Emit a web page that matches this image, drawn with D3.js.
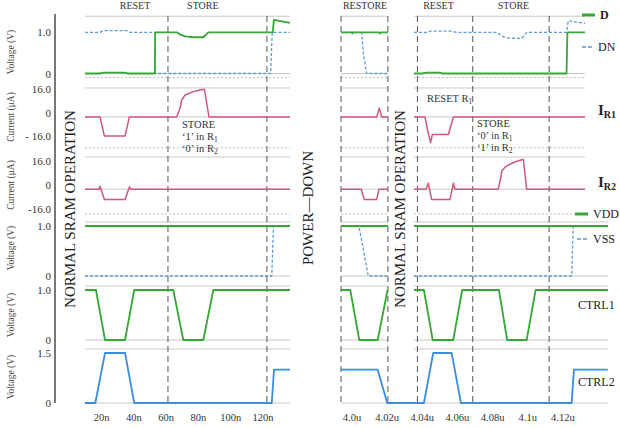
<!DOCTYPE html>
<html>
<head>
<meta charset="utf-8">
<script src="https://cdn.jsdelivr.net/npm/d3@7"></script>
<style>
  body { margin: 0; background: #fff; }
  svg { display: block; font-family: "Liberation Serif", "Times New Roman", serif; }
  svg text { font-family: "Liberation Serif", "Times New Roman", serif; }
</style>
</head>
<body>
<svg id="chart" width="620" height="428"></svg>
<script>
// ---- time axes ----
const leftTicks = [20, 40, 60, 80, 100, 120];
const leftTickLabels = ["20n", "40n", "60n", "80n", "100n", "120n"];
const rightTicks = [4.0, 4.02, 4.04, 4.06, 4.08, 4.1, 4.12];
const rightTickLabels = ["4.0u", "4.02u", "4.04u", "4.06u", "4.08u", "4.1u", "4.12u"];

// phase boundaries (dashed) and phase names
const leftBounds = [61.4, 122.7];
const rightBounds = [3.994, 4.0207, 4.0375, 4.069, 4.1125];
const leftPhases = [["RESET", 41], ["STORE", 83]];
const rightPhases = [["RESTORE", 4.0077], ["RESET", 4.0495], ["STORE", 4.0922]];

// ---- left: normal SRAM operation (ns) ----
const leftD = [[10,0],[19,0],[21.5,0.02],[34,0.02],[37,0],[53.3,0],[53.5,1],[66.8,1],[68.9,0.95],[72,0.9],[77.1,0.88],[83.3,0.88],[86.4,1],[126.3,1],[127,1.3],[137,1.23]];
const leftDN = [[10,1],[19.3,1],[21.3,1.04],[35.8,1.04],[37.9,1],[53.4,1],[53.5,0],[125,0],[126,1],[137,1]];
const leftIR1 = [[10,-3],[19.3,-3],[22,-16],[34.8,-16],[37.5,-3],[66.8,-3],[68.9,3],[69.9,8.5],[72,11.9],[77.1,14.2],[81.2,15.3],[84,15.8],[86.8,-3],[137,-3]];
const leftIR2 = [[10,-3],[18.7,-3],[19.3,-1],[22,-10],[34.8,-10],[37.5,-1.5],[38.4,-3],[137,-3]];
const leftVDD = [[10,1],[137,1]];
const leftVSS = [[10,0],[125.7,0],[126.8,1],[137,1]];
const leftCTRL1 = [[10,1],[16.8,1],[22.4,0],[34.8,0],[40.5,1],[64.7,1],[70.9,0],[83.3,0],[89.5,1],[137,1]];
const leftCTRL2 = [[10,0],[16.4,0],[22.4,1.5],[34.8,1.5],[40.5,0],[125.7,0],[127.1,1],[137,1]];

// ---- right: restore after power-down (us), two segments each ----
const rightD = [
  [[3.994,1],[4.0001,1],[4.0005,0.97],[4.001,1],[4.0155,1],[4.0162,0.97],[4.0168,1],[4.0207,1]],
  [[4.0355,0],[4.04,0],[4.043,0.02],[4.05,0.02],[4.052,0],[4.1224,0],[4.1229,1],[4.1329,1]]
];
const rightDN = [
  [[3.994,1],[4.0058,1],[4.0067,0.5],[4.0086,0],[4.0207,0]],
  [[4.0355,1],[4.0437,1],[4.045,1.03],[4.057,1.03],[4.0598,1],[4.0826,1],[4.0864,0.89],[4.09,0.86],[4.0968,0.85],[4.0997,1],[4.1224,1],[4.1234,1.28],[4.1329,1.22]]
];
const rightIR1 = [
  [[3.994,-3],[4.0143,-3],[4.0158,3],[4.0172,-3],[4.0207,-3]],
  [[4.0355,-3],[4.0418,-3],[4.0433,-12],[4.045,-20.5],[4.046,-15],[4.0551,-15],[4.058,-3],[4.1329,-3]]
];
const rightIR2 = [
  [[3.994,-3],[4.0055,-3],[4.0072,-10],[4.0143,-10],[4.0156,-3],[4.0207,-3]],
  [[4.0355,-3],[4.0424,-3],[4.0437,1],[4.0456,-10],[4.056,-10],[4.058,1],[4.0589,-3],[4.0835,-3],[4.0848,4],[4.0856,9.4],[4.0875,12],[4.0921,15],[4.0968,16.8],[4.0978,17],[4.0997,-3],[4.1329,-3]]
];
const rightVDD = [
  [[3.994,1],[4.0207,1]],
  [[4.0355,1],[4.1459,1]]
];
const rightVSS = [
  [[3.994,1],[4.0042,1],[4.0095,0],[4.0207,0]],
  [[4.0355,0],[4.1253,0],[4.1262,1],[4.1459,1]]
];
const rightCTRL1 = [
  [[3.994,1],[3.9993,1],[4.0044,0],[4.0149,0],[4.0205,1]],
  [[4.0355,1],[4.0412,1],[4.0462,0],[4.0579,0],[4.063,1],[4.0839,1],[4.0886,0],[4.0997,0],[4.1048,1],[4.1459,1]]
];
const rightCTRL2 = [
  [[3.994,1],[4.0149,1],[4.0203,0],[4.0412,0],[4.0465,1.5],[4.057,1.5],[4.0623,0],[4.1253,0],[4.1266,1],[4.1459,1]]
];

// extent of the light grid lines in each half
const leftSpan = [[10, 137]];
const rightSpanTop = [[3.994, 4.0207], [4.0355, 4.1329]];
const rightSpanBottom = [[3.994, 4.0207], [4.0355, 4.1459]];

const green = "#35a835", lightBlue = "#5a9ad8", blue = "#3b8de0", red = "#d2587a";
const serif = '"Liberation Serif", "Times New Roman", serif';

const svg = d3.select("#chart");
const xL = d3.scaleLinear().domain([10, 137]).range([85, 290]);
const xR = d3.scaleLinear().domain([3.994, 4.146]).range([341, 608]);

// six stacked panels
const panels = [
  {domain: [0, 1], range: [73.5, 32.3], ticks: [1, 0], labels: ["1.0", "0"], grid: [1.39, 0], dotted: [-0.1], title: "Voltage (V)", titleY: 52},
  {domain: [-16, 16], range: [136, 89], ticks: [16, 0, -16], labels: ["16.0", "0", "- 16.0"], grid: [16.7, -3], dotted: [-24], title: "Current (\u03bcA)", titleY: 117},
  {domain: [-16, 16], range: [208.5, 161], ticks: [16, 0, -16], labels: ["16.0", "0", "-16.0"], grid: [18.7, -3], dotted: [-19.7], title: "Current (\u03bcA)", titleY: 185},
  {domain: [0, 1], range: [276, 226], ticks: [1, 0], labels: ["1.0", "0"], grid: [1.08, 0], dotted: [], title: "Voltage (V)", titleY: 248},
  {domain: [0, 1], range: [340, 290], ticks: [1, 0], labels: ["1.0", "0"], grid: [1.08, 0], dotted: [], title: "Voltage (V)", titleY: 315},
  {domain: [0, 1.5], range: [403, 353], ticks: [1.5, 0], labels: ["1.5", "0"], grid: [1.62, 0], dotted: [], title: "Voltage (V)", titleY: 377}
];
panels.forEach(p => p.y = d3.scaleLinear().domain(p.domain).range(p.range));

// grid lines
const gridG = svg.append("g");
panels.forEach((p, i) => {
  const halves = [[xL, leftSpan], [xR, i < 3 ? rightSpanTop : rightSpanBottom]];
  halves.forEach(([x, segs]) => {
    segs.forEach(s => {
      gridG.selectAll(null).data(p.grid).join("line")
        .attr("x1", x(s[0])).attr("x2", x(s[1]))
        .attr("y1", d => p.y(d)).attr("y2", d => p.y(d))
        .attr("stroke", "#c9c9c9").attr("stroke-width", 1);
      gridG.selectAll(null).data(p.dotted).join("line")
        .attr("x1", x(s[0])).attr("x2", x(s[1]))
        .attr("y1", d => p.y(d)).attr("y2", d => p.y(d))
        .attr("stroke", "#bdbdbd").attr("stroke-dasharray", "2,2");
    });
  });
});

// phase boundaries
const bandTop = 16, bandBottom = 403;
[[xL, leftBounds], [xR, rightBounds]].forEach(([x, b]) => {
  svg.append("g").selectAll("line").data(b).join("line")
    .attr("x1", d => x(d)).attr("x2", d => x(d))
    .attr("y1", bandTop).attr("y2", bandBottom)
    .attr("stroke", "#555").attr("stroke-width", 1).attr("stroke-dasharray", "6,4");
});

// series
const series = [
  {p: 0, x: xL, segs: [leftDN], color: lightBlue, dash: "3,2", w: 1.3},
  {p: 0, x: xL, segs: [leftD], color: green, w: 1.8},
  {p: 0, x: xR, segs: rightDN, color: lightBlue, dash: "3,2", w: 1.3},
  {p: 0, x: xR, segs: rightD, color: green, w: 1.8},
  {p: 1, x: xL, segs: [leftIR1], color: red, w: 1.5},
  {p: 1, x: xR, segs: rightIR1, color: red, w: 1.5},
  {p: 2, x: xL, segs: [leftIR2], color: red, w: 1.5},
  {p: 2, x: xR, segs: rightIR2, color: red, w: 1.5},
  {p: 3, x: xL, segs: [leftVSS], color: lightBlue, dash: "3,2", w: 1.3},
  {p: 3, x: xL, segs: [leftVDD], color: green, w: 1.8},
  {p: 3, x: xR, segs: rightVSS, color: lightBlue, dash: "3,2", w: 1.3},
  {p: 3, x: xR, segs: rightVDD, color: green, w: 1.8},
  {p: 4, x: xL, segs: [leftCTRL1], color: green, w: 1.8},
  {p: 4, x: xR, segs: rightCTRL1, color: green, w: 1.8},
  {p: 5, x: xL, segs: [leftCTRL2], color: blue, w: 1.8},
  {p: 5, x: xR, segs: rightCTRL2, color: blue, w: 1.8}
];
series.forEach(s => {
  const y = panels[s.p].y;
  const line = d3.line().x(d => s.x(d[0])).y(d => y(d[1]));
  svg.append("g").selectAll("path").data(s.segs).join("path")
    .attr("d", line)
    .attr("fill", "none")
    .attr("stroke", s.color)
    .attr("stroke-width", s.w)
    .attr("stroke-dasharray", s.dash || null)
    .attr("stroke-linejoin", "round");
});

// y axes (labels only) + shared vertical rule
panels.forEach(p => {
  const ax = svg.append("g")
    .attr("transform", "translate(55,0)")
    .call(d3.axisLeft(p.y).tickValues(p.ticks).tickFormat((d, i) => p.labels[i]).tickSize(0).tickPadding(4));
  ax.attr("font-family", null);
  ax.select(".domain").remove();
  ax.selectAll("text").style("font-family", serif).style("font-size", "11px").attr("fill", "#333");
  svg.append("text")
    .attr("transform", `translate(12,${p.titleY}) rotate(-90)`)
    .attr("text-anchor", "middle").attr("dominant-baseline", "middle")
    .style("font-size", "9.5px").attr("fill", "#444")
    .text(p.title);
});
svg.append("line").attr("x1", 55).attr("x2", 55).attr("y1", 14).attr("y2", 403)
  .attr("stroke", "#555").attr("stroke-width", 1.6);

// x axes
[[xL, leftTicks, leftTickLabels], [xR, rightTicks, rightTickLabels]].forEach(([x, t, l]) => {
  const ax = svg.append("g")
    .attr("transform", "translate(0,405)")
    .call(d3.axisBottom(x).tickValues(t).tickFormat((d, i) => l[i]).tickSize(0).tickPadding(9));
  ax.attr("font-family", null);
  ax.select(".domain").remove();
  ax.selectAll("text").style("font-family", serif).style("font-size", "10.5px").attr("fill", "#333");
});

// phase names
[[xL, leftPhases], [xR, rightPhases]].forEach(([x, ph]) => {
  svg.append("g").selectAll("text").data(ph).join("text")
    .attr("x", d => x(d[1])).attr("y", 7)
    .attr("text-anchor", "middle").attr("dominant-baseline", "middle")
    .style("font-size", "10px").attr("fill", "#333")
    .text(d => d[0]);
});

// big vertical captions
const bigText = (x, y, s) => svg.append("text")
  .attr("transform", `translate(${x},${y}) rotate(-90)`)
  .attr("text-anchor", "middle").attr("dominant-baseline", "middle")
  .style("font-size", "15px").attr("fill", "#222").text(s);
bigText(72, 209, "NORMAL SRAM OPERATION");
bigText(310, 208, "POWER\u2014DOWN");
bigText(402, 209, "NORMAL SRAM OPERATION");

// annotations
const note = (x, y, parts) => {
  const t = svg.append("text").attr("x", x).attr("y", y).style("font-size", "10.5px").attr("fill", "#333");
  parts.forEach(([s, sub]) => {
    t.append("tspan").text(s);
    if (sub) t.append("tspan").style("font-size", "7.5px").attr("dy", 2).text(sub);
  });
  return t;
};
const storeNote = (x, y, a, b) => {
  note(x, y, [["STORE"]]);
  note(x, y + 12, [[`\u2018${a}\u2019 in R`, "1"]]);
  note(x, y + 24, [[`\u2018${b}\u2019 in R`, "2"]]);
};
storeNote(xL(70.1), 128, "1", "0");
storeNote(xR(4.0714), 127, "0", "1");
note(xR(4.0429), 102, [["RESET R", "1"]]);

// right-side legend / labels
svg.append("line").attr("x1", 582).attr("x2", 595).attr("y1", 15).attr("y2", 15).attr("stroke", green).attr("stroke-width", 3);
svg.append("text").attr("x", 600).attr("y", 19).style("font-size", "12px").attr("font-weight", "bold").attr("fill", "#222").text("D");
svg.append("line").attr("x1", 582).attr("x2", 594).attr("y1", 47).attr("y2", 47).attr("stroke", lightBlue).attr("stroke-width", 1.5).attr("stroke-dasharray", "4,2");
svg.append("text").attr("x", 598).attr("y", 51).style("font-size", "12px").attr("fill", "#222").text("DN");
svg.append("line").attr("x1", 575).attr("x2", 588).attr("y1", 214).attr("y2", 214).attr("stroke", green).attr("stroke-width", 3);
svg.append("text").attr("x", 593).attr("y", 218).style("font-size", "12px").attr("fill", "#222").text("VDD");
svg.append("line").attr("x1", 577).attr("x2", 589).attr("y1", 239).attr("y2", 239).attr("stroke", lightBlue).attr("stroke-width", 1.5).attr("stroke-dasharray", "4,2");
svg.append("text").attr("x", 593).attr("y", 243).style("font-size", "12px").attr("fill", "#222").text("VSS");

[["R1", 115], ["R2", 187]].forEach(([s, y]) => {
  const t = svg.append("text").attr("x", 598).attr("y", y).attr("font-weight", "bold").style("font-size", "15px").attr("fill", "#222");
  t.append("tspan").text("I");
  t.append("tspan").style("font-size", "10px").attr("dy", 3).text(s);
});
svg.append("text").attr("x", 578).attr("y", 309).style("font-size", "12px").attr("fill", "#222").text("CTRL1");
svg.append("text").attr("x", 578).attr("y", 386).style("font-size", "12px").attr("fill", "#222").text("CTRL2");
</script>
</body>
</html>
